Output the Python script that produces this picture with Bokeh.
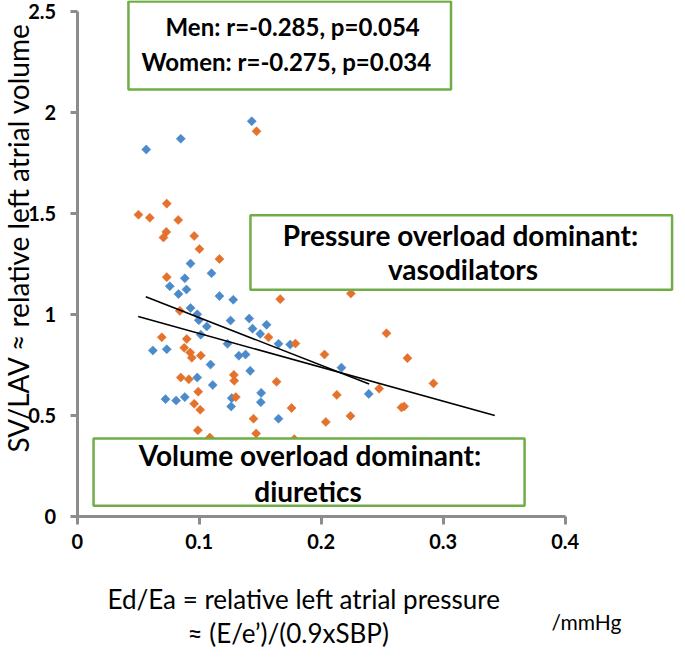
import math
from bokeh.plotting import figure
from bokeh.models import Range1d, FixedTicker, BoxAnnotation, Label
from bokeh.embed import file_html
from bokeh.resources import INLINE

# Men (blue) : Ed/Ea vs SV/LAV
men_x = [0.1431, 0.0849, 0.0566, 0.0929, 0.1101, 0.0882, 0.0759, 0.0896, 0.0830,
         0.1166, 0.1279, 0.0929, 0.0984, 0.0997, 0.1257, 0.1410, 0.1062, 0.1437,
         0.1552, 0.1500, 0.1013, 0.1232, 0.0620, 0.0734, 0.1325, 0.1380, 0.1093,
         0.1418, 0.0984, 0.1111, 0.1508, 0.1505, 0.0724, 0.0811, 0.0882, 0.1267,
         0.1262, 0.1650, 0.1746, 0.2166, 0.2390, 0.1650]
men_y = [1.957, 1.870, 1.817, 1.252, 1.204, 1.179, 1.140, 1.124, 1.101,
         1.091, 1.073, 1.032, 1.001, 0.972, 0.970, 0.980, 0.941, 0.930,
         0.949, 0.904, 0.900, 0.855, 0.822, 0.828, 0.796, 0.802, 0.752,
         0.721, 0.688, 0.651, 0.612, 0.566, 0.581, 0.574, 0.591, 0.586,
         0.545, 0.855, 0.851, 0.737, 0.607, 0.484]

# Women (orange)
women_x = [0.1470, 0.0734, 0.0502, 0.0595, 0.0828, 0.0730, 0.0707, 0.0959, 0.1002,
           0.1166, 0.0734, 0.0841, 0.1568, 0.0693, 0.0898, 0.0877, 0.0926, 0.0939,
           0.1013, 0.1284, 0.1287, 0.0849, 0.0915, 0.0992, 0.1300, 0.0959, 0.1008,
           0.1445, 0.1467, 0.0989, 0.1087, 0.1664, 0.2243, 0.1789, 0.2027, 0.1634,
           0.2128, 0.1757, 0.2038, 0.2240, 0.1779, 0.2535, 0.2707, 0.2920, 0.2475,
           0.2658, 0.2680]
women_y = [1.907, 1.549, 1.494, 1.479, 1.468, 1.409, 1.381, 1.389, 1.324,
           1.275, 1.185, 1.018, 0.887, 0.887, 0.879, 0.835, 0.812, 0.786,
           0.797, 0.701, 0.672, 0.688, 0.679, 0.618, 0.591, 0.558, 0.528,
           0.484, 0.411, 0.427, 0.391, 1.076, 1.104, 0.856, 0.802, 0.667,
           0.602, 0.537, 0.468, 0.498, 0.383, 0.907, 0.784, 0.659, 0.633,
           0.540, 0.545]

# linear trend lines
men_fit_x = [0.0562, 0.2393]
men_fit_y = [1.088, 0.656]
women_fit_x = [0.0500, 0.3423]
women_fit_y = [0.990, 0.500]

x_ticks = [0, 0.1, 0.2, 0.3, 0.4]
x_tick_labels = ["0", "0.1", "0.2", "0.3", "0.4"]
y_ticks = [0, 0.5, 1, 1.5, 2, 2.5]
y_tick_labels = ["0", "0.5", "1", "1.5", "2", "2.5"]

BLUE = "#4C8ACA"
ORANGE = "#E4722C"
GREEN = "#70AD47"
AXIS = "#8C8C8C"
FONT = "Lato"

# frame fills the whole canvas; axes are pinned at 0 with fixed_location
p = figure(width=677, height=650,
           x_range=Range1d(-0.06287, 0.49205), y_range=Range1d(-0.6634, 2.5545),
           output_backend="svg", toolbar_location=None,
           min_border_left=0, min_border_right=0, min_border_top=0, min_border_bottom=0)
p.grid.visible = False
p.outline_line_color = None
p.background_fill_color = "white"

p.xaxis.fixed_location = 0
p.yaxis.fixed_location = 0
p.xaxis.bounds = (0, 0.4)
p.yaxis.bounds = (0, 2.5)
p.xaxis.ticker = FixedTicker(ticks=x_ticks)
p.yaxis.ticker = FixedTicker(ticks=y_ticks)
p.xaxis.major_label_overrides = {t: l for t, l in zip(x_ticks, x_tick_labels)}
p.yaxis.major_label_overrides = {t: l for t, l in zip(y_ticks, y_tick_labels)}
for ax in (p.xaxis, p.yaxis):
    ax.axis_line_color = AXIS
    ax.axis_line_width = 3
    ax.major_tick_line_color = AXIS
    ax.major_tick_line_width = 3
    ax.major_tick_in = 0
    ax.minor_tick_line_color = None
    ax.major_label_text_font = FONT
    ax.major_label_text_font_style = "bold"
    ax.major_label_text_font_size = "20px"
    ax.major_label_text_color = "black"
p.xaxis.major_tick_out = 8
p.xaxis.major_label_standoff = 10
p.yaxis.major_tick_out = 7
p.yaxis.major_label_standoff = 14

p.scatter(men_x, men_y, marker="square", size=6.4, angle=math.pi / 4,
          fill_color=BLUE, line_color=BLUE, line_width=0.6)
p.scatter(women_x, women_y, marker="square", size=6.4, angle=math.pi / 4,
          fill_color=ORANGE, line_color=ORANGE, line_width=0.6)
p.line(men_fit_x, men_fit_y, line_color="black", line_width=1.6)
p.line(women_fit_x, women_fit_y, line_color="black", line_width=1.6)


def box(l, r, t, b):
    p.add_layout(BoxAnnotation(left=l, right=r, top=t, bottom=b, fill_color="white",
                               fill_alpha=1.0, line_color=GREEN, line_width=2.5,
                               line_alpha=1.0))


box(0.042, 0.3064, 2.5495, 2.1139)
box(0.142, 0.4876, 1.4916, 1.1223)
box(0.0134, 0.3667, 0.3861, 0.0530)


def lab(x, y, text, size, bold=True, align="center", angle=0.0):
    p.add_layout(Label(x=x, y=y, text=text, text_font=FONT,
                       text_font_style="bold" if bold else "normal",
                       text_font_size=size, text_align=align, text_baseline="middle",
                       text_color="black", angle=angle))


lab(0.0724, 2.4257, "Men: r=-0.285, p=0.054", "24px", align="left")
lab(0.0527, 2.2525, "Women: r=-0.275, p=0.034", "24px", align="left")
lab(0.3142, 1.3960, "Pressure overload dominant:", "28px")
lab(0.3162, 1.2228, "vasodilators", "28px")
lab(0.1908, 0.3020, "Volume overload dominant:", "28px")
lab(0.1892, 0.1238, "diuretics", "28px")

lab(0.0248, -0.4109, "Ed/Ea = relative left atrial pressure", "26px", bold=False, align="left")
lab(0.0904, -0.5743, "\u2248 (E/e\u2019)/(0.9xSBP)", "26px", bold=False, align="left")
lab(0.3888, -0.5198, "/mmHg", "21px", bold=False, align="left")
lab(-0.0485, 1.381, "SV/LAV \u2248 relative left atrial volume", "28px", bold=False,
    angle=math.pi / 2)

open("out.html", "w").write(file_html(p, INLINE))
